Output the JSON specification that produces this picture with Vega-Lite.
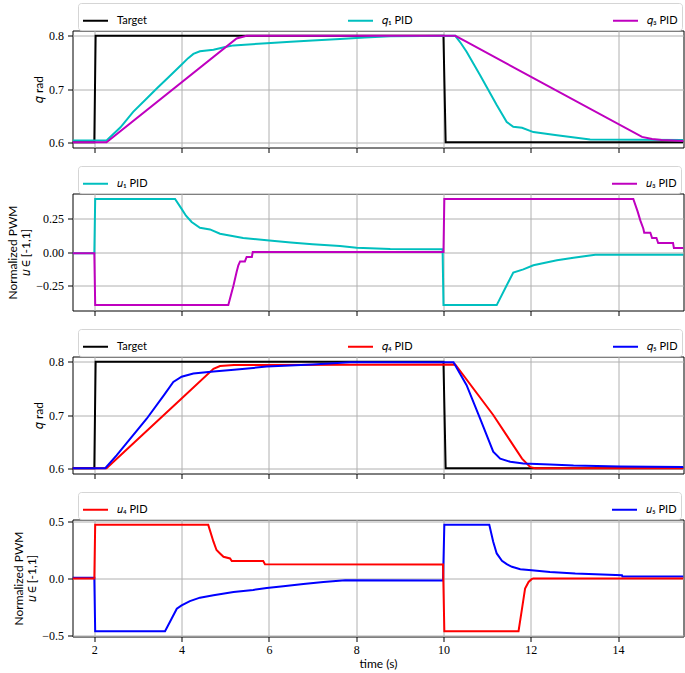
{
  "$schema": "https://vega.github.io/schema/vega-lite/v6.json",
  "padding": {"left": 5.5, "top": 1.5, "right": 1, "bottom": 1},
  "background": "white",
  "datasets": {
    "p1": [
      {"t":1.5,"v":0.6,"s":"Target"},{"t":2.0,"v":0.6,"s":"Target"},{"t":2.03,"v":0.8,"s":"Target"},{"t":10.0,"v":0.8,"s":"Target"},{"t":10.05,"v":0.6,"s":"Target"},{"t":15.5,"v":0.6,"s":"Target"},
      {"t":1.5,"v":0.603,"s":"𝑞₁ PID"},{"t":2.28,"v":0.603,"s":"𝑞₁ PID"},{"t":2.6,"v":0.628,"s":"𝑞₁ PID"},{"t":2.89,"v":0.657,"s":"𝑞₁ PID"},{"t":3.2,"v":0.682,"s":"𝑞₁ PID"},{"t":3.43,"v":0.701,"s":"𝑞₁ PID"},{"t":3.7,"v":0.722,"s":"𝑞₁ PID"},{"t":3.99,"v":0.745,"s":"𝑞₁ PID"},{"t":4.15,"v":0.758,"s":"𝑞₁ PID"},{"t":4.27,"v":0.766,"s":"𝑞₁ PID"},{"t":4.42,"v":0.771,"s":"𝑞₁ PID"},{"t":4.73,"v":0.774,"s":"𝑞₁ PID"},{"t":5.0,"v":0.779,"s":"𝑞₁ PID"},{"t":5.19,"v":0.782,"s":"𝑞₁ PID"},{"t":5.95,"v":0.786,"s":"𝑞₁ PID"},{"t":6.5,"v":0.789,"s":"𝑞₁ PID"},{"t":7.0,"v":0.791,"s":"𝑞₁ PID"},{"t":7.63,"v":0.794,"s":"𝑞₁ PID"},{"t":8.2,"v":0.797,"s":"𝑞₁ PID"},{"t":8.78,"v":0.799,"s":"𝑞₁ PID"},{"t":10.27,"v":0.8,"s":"𝑞₁ PID"},{"t":10.4,"v":0.786,"s":"𝑞₁ PID"},{"t":10.53,"v":0.77,"s":"𝑞₁ PID"},{"t":10.84,"v":0.726,"s":"𝑞₁ PID"},{"t":11.22,"v":0.67,"s":"𝑞₁ PID"},{"t":11.45,"v":0.638,"s":"𝑞₁ PID"},{"t":11.6,"v":0.629,"s":"𝑞₁ PID"},{"t":11.8,"v":0.627,"s":"𝑞₁ PID"},{"t":12.06,"v":0.619,"s":"𝑞₁ PID"},{"t":12.6,"v":0.613,"s":"𝑞₁ PID"},{"t":13.36,"v":0.605,"s":"𝑞₁ PID"},{"t":15.5,"v":0.604,"s":"𝑞₁ PID"},
      {"t":1.5,"v":0.6,"s":"𝑞₃ PID"},{"t":2.28,"v":0.6,"s":"𝑞₃ PID"},{"t":5.26,"v":0.795,"s":"𝑞₃ PID"},{"t":5.49,"v":0.8,"s":"𝑞₃ PID"},{"t":10.27,"v":0.8,"s":"𝑞₃ PID"},{"t":10.5,"v":0.79,"s":"𝑞₃ PID"},{"t":14.55,"v":0.61,"s":"𝑞₃ PID"},{"t":14.78,"v":0.606,"s":"𝑞₃ PID"},{"t":15.0,"v":0.604,"s":"𝑞₃ PID"},{"t":15.5,"v":0.602,"s":"𝑞₃ PID"}
    ],
    "p2": [
      {"t":1.5,"v":-0.01,"s":"𝑢₁ PID"},{"t":2.0,"v":-0.01,"s":"𝑢₁ PID"},{"t":2.02,"v":0.395,"s":"𝑢₁ PID"},{"t":3.85,"v":0.395,"s":"𝑢₁ PID"},{"t":4.0,"v":0.321,"s":"𝑢₁ PID"},{"t":4.1,"v":0.27,"s":"𝑢₁ PID"},{"t":4.23,"v":0.223,"s":"𝑢₁ PID"},{"t":4.42,"v":0.18,"s":"𝑢₁ PID"},{"t":4.65,"v":0.168,"s":"𝑢₁ PID"},{"t":4.88,"v":0.136,"s":"𝑢₁ PID"},{"t":5.41,"v":0.104,"s":"𝑢₁ PID"},{"t":5.95,"v":0.087,"s":"𝑢₁ PID"},{"t":6.5,"v":0.07,"s":"𝑢₁ PID"},{"t":7.0,"v":0.058,"s":"𝑢₁ PID"},{"t":7.63,"v":0.045,"s":"𝑢₁ PID"},{"t":8.01,"v":0.032,"s":"𝑢₁ PID"},{"t":8.78,"v":0.022,"s":"𝑢₁ PID"},{"t":9.98,"v":0.02,"s":"𝑢₁ PID"},{"t":10.0,"v":-0.395,"s":"𝑢₁ PID"},{"t":11.22,"v":-0.395,"s":"𝑢₁ PID"},{"t":11.45,"v":-0.247,"s":"𝑢₁ PID"},{"t":11.6,"v":-0.153,"s":"𝑢₁ PID"},{"t":11.83,"v":-0.129,"s":"𝑢₁ PID"},{"t":12.06,"v":-0.099,"s":"𝑢₁ PID"},{"t":12.6,"v":-0.062,"s":"𝑢₁ PID"},{"t":12.98,"v":-0.042,"s":"𝑢₁ PID"},{"t":13.48,"v":-0.02,"s":"𝑢₁ PID"},{"t":15.5,"v":-0.02,"s":"𝑢₁ PID"},
      {"t":1.5,"v":-0.01,"s":"𝑢₃ PID"},{"t":2.0,"v":-0.01,"s":"𝑢₃ PID"},{"t":2.02,"v":-0.395,"s":"𝑢₃ PID"},{"t":5.07,"v":-0.395,"s":"𝑢₃ PID"},{"t":5.19,"v":-0.247,"s":"𝑢₃ PID"},{"t":5.26,"v":-0.148,"s":"𝑢₃ PID"},{"t":5.3,"v":-0.099,"s":"𝑢₃ PID"},{"t":5.34,"v":-0.07,"s":"𝑢₃ PID"},{"t":5.45,"v":-0.07,"s":"𝑢₃ PID"},{"t":5.49,"v":-0.037,"s":"𝑢₃ PID"},{"t":5.61,"v":-0.037,"s":"𝑢₃ PID"},{"t":5.63,"v":0.0,"s":"𝑢₃ PID"},{"t":10.0,"v":0.0,"s":"𝑢₃ PID"},{"t":10.02,"v":0.395,"s":"𝑢₃ PID"},{"t":14.35,"v":0.395,"s":"𝑢₃ PID"},{"t":14.45,"v":0.3,"s":"𝑢₃ PID"},{"t":14.51,"v":0.235,"s":"𝑢₃ PID"},{"t":14.58,"v":0.173,"s":"𝑢₃ PID"},{"t":14.6,"v":0.143,"s":"𝑢₃ PID"},{"t":14.74,"v":0.143,"s":"𝑢₃ PID"},{"t":14.78,"v":0.104,"s":"𝑢₃ PID"},{"t":14.88,"v":0.104,"s":"𝑢₃ PID"},{"t":14.92,"v":0.067,"s":"𝑢₃ PID"},{"t":15.26,"v":0.067,"s":"𝑢₃ PID"},{"t":15.28,"v":0.03,"s":"𝑢₃ PID"},{"t":15.5,"v":0.03,"s":"𝑢₃ PID"}
    ],
    "p3": [
      {"t":1.5,"v":0.6,"s":"Target"},{"t":2.0,"v":0.6,"s":"Target"},{"t":2.03,"v":0.8,"s":"Target"},{"t":10.0,"v":0.8,"s":"Target"},{"t":10.05,"v":0.6,"s":"Target"},{"t":15.5,"v":0.6,"s":"Target"},
      {"t":1.5,"v":0.6,"s":"𝑞₄ PID"},{"t":2.28,"v":0.6,"s":"𝑞₄ PID"},{"t":4.0,"v":0.731,"s":"𝑞₄ PID"},{"t":4.73,"v":0.787,"s":"𝑞₄ PID"},{"t":4.88,"v":0.792,"s":"𝑞₄ PID"},{"t":5.2,"v":0.794,"s":"𝑞₄ PID"},{"t":10.27,"v":0.795,"s":"𝑞₄ PID"},{"t":11.14,"v":0.7,"s":"𝑞₄ PID"},{"t":11.8,"v":0.618,"s":"𝑞₄ PID"},{"t":11.99,"v":0.602,"s":"𝑞₄ PID"},{"t":12.1,"v":0.6,"s":"𝑞₄ PID"},{"t":15.5,"v":0.6,"s":"𝑞₄ PID"},
      {"t":1.5,"v":0.6,"s":"𝑞₅ PID"},{"t":2.25,"v":0.6,"s":"𝑞₅ PID"},{"t":2.51,"v":0.624,"s":"𝑞₅ PID"},{"t":3.2,"v":0.693,"s":"𝑞₅ PID"},{"t":3.6,"v":0.738,"s":"𝑞₅ PID"},{"t":3.81,"v":0.762,"s":"𝑞₅ PID"},{"t":4.0,"v":0.772,"s":"𝑞₅ PID"},{"t":4.27,"v":0.778,"s":"𝑞₅ PID"},{"t":4.73,"v":0.782,"s":"𝑞₅ PID"},{"t":5.2,"v":0.785,"s":"𝑞₅ PID"},{"t":5.95,"v":0.791,"s":"𝑞₅ PID"},{"t":7.0,"v":0.795,"s":"𝑞₅ PID"},{"t":7.86,"v":0.799,"s":"𝑞₅ PID"},{"t":10.23,"v":0.799,"s":"𝑞₅ PID"},{"t":10.53,"v":0.756,"s":"𝑞₅ PID"},{"t":10.84,"v":0.693,"s":"𝑞₅ PID"},{"t":11.14,"v":0.631,"s":"𝑞₅ PID"},{"t":11.3,"v":0.618,"s":"𝑞₅ PID"},{"t":11.53,"v":0.612,"s":"𝑞₅ PID"},{"t":11.83,"v":0.609,"s":"𝑞₅ PID"},{"t":12.44,"v":0.607,"s":"𝑞₅ PID"},{"t":12.98,"v":0.605,"s":"𝑞₅ PID"},{"t":14.05,"v":0.603,"s":"𝑞₅ PID"},{"t":15.5,"v":0.602,"s":"𝑞₅ PID"}
    ],
    "p4": [
      {"t":1.5,"v":0.005,"s":"𝑢₅ PID"},{"t":2.0,"v":0.005,"s":"𝑢₅ PID"},{"t":2.02,"v":-0.463,"s":"𝑢₅ PID"},{"t":3.62,"v":-0.463,"s":"𝑢₅ PID"},{"t":3.77,"v":-0.355,"s":"𝑢₅ PID"},{"t":3.89,"v":-0.266,"s":"𝑢₅ PID"},{"t":4.0,"v":-0.237,"s":"𝑢₅ PID"},{"t":4.19,"v":-0.199,"s":"𝑢₅ PID"},{"t":4.42,"v":-0.169,"s":"𝑢₅ PID"},{"t":4.73,"v":-0.148,"s":"𝑢₅ PID"},{"t":5.19,"v":-0.119,"s":"𝑢₅ PID"},{"t":5.64,"v":-0.101,"s":"𝑢₅ PID"},{"t":5.95,"v":-0.084,"s":"𝑢₅ PID"},{"t":6.33,"v":-0.069,"s":"𝑢₅ PID"},{"t":6.79,"v":-0.049,"s":"𝑢₅ PID"},{"t":7.25,"v":-0.031,"s":"𝑢₅ PID"},{"t":7.75,"v":-0.016,"s":"𝑢₅ PID"},{"t":9.99,"v":-0.019,"s":"𝑢₅ PID"},{"t":10.02,"v":0.47,"s":"𝑢₅ PID"},{"t":11.05,"v":0.47,"s":"𝑢₅ PID"},{"t":11.14,"v":0.322,"s":"𝑢₅ PID"},{"t":11.22,"v":0.219,"s":"𝑢₅ PID"},{"t":11.34,"v":0.155,"s":"𝑢₅ PID"},{"t":11.45,"v":0.125,"s":"𝑢₅ PID"},{"t":11.57,"v":0.102,"s":"𝑢₅ PID"},{"t":11.76,"v":0.081,"s":"𝑢₅ PID"},{"t":12.02,"v":0.072,"s":"𝑢₅ PID"},{"t":12.44,"v":0.057,"s":"𝑢₅ PID"},{"t":13.02,"v":0.042,"s":"𝑢₅ PID"},{"t":14.09,"v":0.028,"s":"𝑢₅ PID"},{"t":14.1,"v":0.016,"s":"𝑢₅ PID"},{"t":15.5,"v":0.016,"s":"𝑢₅ PID"},
      {"t":1.5,"v":0.0,"s":"𝑢₄ PID"},{"t":2.0,"v":0.0,"s":"𝑢₄ PID"},{"t":2.02,"v":0.47,"s":"𝑢₄ PID"},{"t":4.61,"v":0.47,"s":"𝑢₄ PID"},{"t":4.73,"v":0.322,"s":"𝑢₄ PID"},{"t":4.8,"v":0.249,"s":"𝑢₄ PID"},{"t":4.88,"v":0.219,"s":"𝑢₄ PID"},{"t":4.96,"v":0.19,"s":"𝑢₄ PID"},{"t":5.11,"v":0.175,"s":"𝑢₄ PID"},{"t":5.15,"v":0.152,"s":"𝑢₄ PID"},{"t":5.87,"v":0.152,"s":"𝑢₄ PID"},{"t":5.91,"v":0.125,"s":"𝑢₄ PID"},{"t":9.99,"v":0.122,"s":"𝑢₄ PID"},{"t":10.02,"v":-0.463,"s":"𝑢₄ PID"},{"t":11.72,"v":-0.463,"s":"𝑢₄ PID"},{"t":11.8,"v":-0.266,"s":"𝑢₄ PID"},{"t":11.87,"v":-0.09,"s":"𝑢₄ PID"},{"t":11.95,"v":-0.031,"s":"𝑢₄ PID"},{"t":12.02,"v":-0.007,"s":"𝑢₄ PID"},{"t":12.06,"v":0.0,"s":"𝑢₄ PID"},{"t":15.5,"v":0.0,"s":"𝑢₄ PID"}
    ]
  },
  "vconcat": [
    {
      "width": 611, "height": 117,
      "data": {"name": "p1"},
      "mark": {"type": "line", "strokeWidth": 2, "clip": true},
      "encoding": {
        "x": {"field": "t", "type": "quantitative", "scale": {"domain": [1.5, 15.5], "nice": false}, "axis": {"values": [2,4,6,8,10,12,14], "labels": false, "title": null}},
        "y": {"field": "v", "type": "quantitative", "scale": {"domain": [0.59, 0.81], "nice": false, "zero": false}, "axis": {"values": [0.6,0.7,0.8], "format": ".1f", "title": "𝑞 rad", "titlePadding": 3}},
        "color": {"field": "s", "type": "nominal", "scale": {"domain": ["Target","𝑞₁ PID","𝑞₃ PID"], "range": ["#000000","#00bfbf","#bf00bf"]},
          "legend": {"orient": "none", "legendX": 5.5, "legendY": -27.5, "direction": "horizontal", "columns": 3, "columnPadding": 196, "gridAlign": "all"}}
      }
    },
    {
      "width": 611, "height": 117,
      "data": {"name": "p2"},
      "mark": {"type": "line", "strokeWidth": 2, "clip": true},
      "encoding": {
        "x": {"field": "t", "type": "quantitative", "scale": {"domain": [1.5, 15.5], "nice": false}, "axis": {"values": [2,4,6,8,10,12,14], "labels": false, "title": null}},
        "y": {"field": "v", "type": "quantitative", "scale": {"domain": [-0.435, 0.435], "nice": false, "zero": false}, "axis": {"values": [-0.25,0,0.25], "format": ".2f", "title": ["Normalized PWM", "𝑢 ∈ [-1,1]"], "titlePadding": 3}},
        "color": {"field": "s", "type": "nominal", "scale": {"domain": ["𝑢₁ PID","𝑢₃ PID"], "range": ["#00bfbf","#bf00bf"]},
          "legend": {"orient": "none", "legendX": 5.5, "legendY": -27.5, "direction": "horizontal", "columns": 2, "columnPadding": 460, "gridAlign": "all"}}
      }
    },
    {
      "width": 611, "height": 117,
      "data": {"name": "p3"},
      "mark": {"type": "line", "strokeWidth": 2, "clip": true},
      "encoding": {
        "x": {"field": "t", "type": "quantitative", "scale": {"domain": [1.5, 15.5], "nice": false}, "axis": {"values": [2,4,6,8,10,12,14], "labels": false, "title": null}},
        "y": {"field": "v", "type": "quantitative", "scale": {"domain": [0.59, 0.81], "nice": false, "zero": false}, "axis": {"values": [0.6,0.7,0.8], "format": ".1f", "title": "𝑞 rad", "titlePadding": 3}},
        "color": {"field": "s", "type": "nominal", "scale": {"domain": ["Target","𝑞₄ PID","𝑞₅ PID"], "range": ["#000000","#ff0000","#0000ff"]},
          "legend": {"orient": "none", "legendX": 5.5, "legendY": -27.5, "direction": "horizontal", "columns": 3, "columnPadding": 196, "gridAlign": "all"}}
      }
    },
    {
      "width": 611, "height": 117,
      "data": {"name": "p4"},
      "mark": {"type": "line", "strokeWidth": 2, "clip": true},
      "encoding": {
        "x": {"field": "t", "type": "quantitative", "scale": {"domain": [1.5, 15.5], "nice": false}, "axis": {"values": [2,4,6,8,10,12,14], "format": "d", "title": "time (s)", "labelPadding": 3, "titlePadding": 3}},
        "y": {"field": "v", "type": "quantitative", "scale": {"domain": [-0.51, 0.517], "nice": false, "zero": false}, "axis": {"values": [-0.5,0,0.5], "format": ".1f", "title": ["Normalized PWM", "𝑢 ∈ [-1,1]"], "titlePadding": 3}},
        "color": {"field": "s", "type": "nominal", "scale": {"domain": ["𝑢₄ PID","𝑢₅ PID"], "range": ["#ff0000","#0000ff"]},
          "legend": {"orient": "none", "legendX": 5.5, "legendY": -27.5, "direction": "horizontal", "columns": 2, "columnPadding": 460, "gridAlign": "all"}}
      }
    }
  ],
  "spacing": 46,
  "bounds": "flush",
  "resolve": {"scale": {"color": "independent"}, "legend": {"color": "independent"}},
  "config": {
    "view": {"stroke": "#000000", "strokeWidth": 1},
    "axis": {"grid": true, "gridColor": "#b0b0b0", "gridWidth": 1, "domain": false, "tickColor": "#000000", "tickSize": 5, "tickWidth": 1, "labelFont": "Liberation Serif", "labelFontSize": 12, "labelColor": "#000000", "labelPadding": 4, "titleFont": "Lato", "titleFontSize": 12, "titleLineHeight": 13, "titleFontWeight": "normal", "titleColor": "#000000"},
    "legend": {"title": null, "symbolType": "stroke", "symbolSize": 625, "symbolStrokeWidth": 2, "labelFont": "Lato", "labelFontSize": 11, "labelColor": "#000000", "labelOffset": 8, "padding": 4, "strokeColor": "#d5d5d5", "fillColor": "#ffffff", "cornerRadius": 3}
  }
}
